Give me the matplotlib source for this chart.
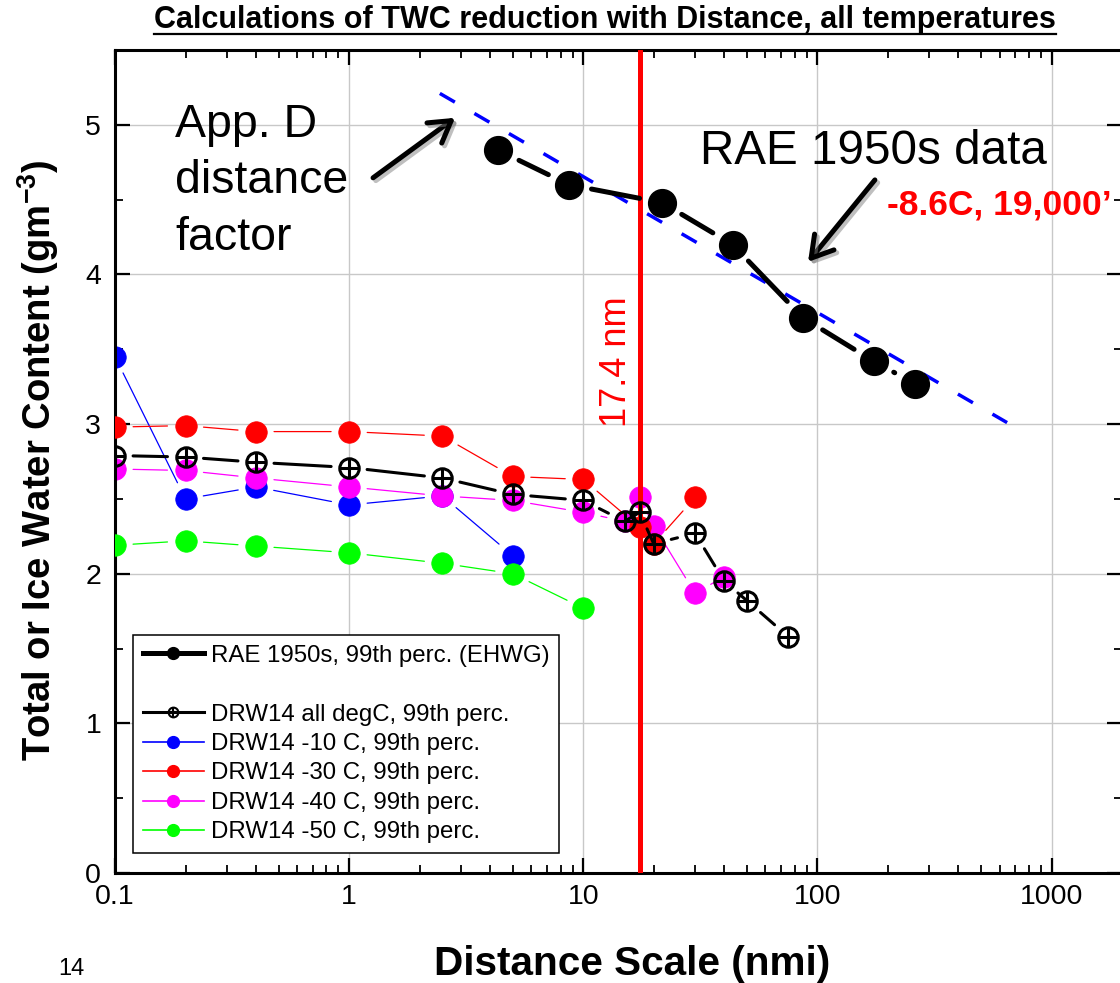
import matplotlib
matplotlib.use('Agg')
import matplotlib.pyplot as plt
import matplotlib.patheffects as pe
from matplotlib.lines import Line2D
from matplotlib.legend_handler import HandlerTuple
from matplotlib.ticker import MultipleLocator, FuncFormatter, LogLocator, NullFormatter

plt.rcParams['font.family'] = ['Liberation Sans', 'DejaVu Sans']
plt.rcParams['mathtext.default'] = 'regular'

# RAE 1950s, 99th percentile (EHWG)
rae_dist = [4.34, 8.69, 21.7, 43.4, 86.9, 173.8, 260.7]
rae_twc  = [4.83, 4.60, 4.48, 4.20, 3.71, 3.42, 3.27]

# App. D distance factor
appd_dist = [2.44, 646.0]
appd_twc  = [5.21, 3.01]

# DRW14 99th percentiles
all_dist = [0.1, 0.2, 0.4, 1, 2.5, 5, 10, 15, 17.4, 20, 30, 40, 50, 75]
all_twc  = [2.79, 2.78, 2.745, 2.71, 2.64, 2.53, 2.49, 2.35, 2.41, 2.20, 2.27, 1.95, 1.82, 1.58]
m10_dist = [0.1, 0.2, 0.4, 1, 2.5, 5]
m10_twc  = [3.45, 2.50, 2.58, 2.46, 2.52, 2.12]
m40_dist = [0.1, 0.2, 0.4, 1, 2.5, 5, 10, 15, 17.4, 20, 30, 40]
m40_twc  = [2.70, 2.69, 2.64, 2.58, 2.52, 2.49, 2.41, 2.35, 2.51, 2.32, 1.87, 1.98]
m30_dist = [0.1, 0.2, 0.4, 1, 2.5, 5, 10, 17.4, 20, 30]
m30_twc  = [2.98, 2.99, 2.95, 2.95, 2.92, 2.65, 2.63, 2.31, 2.20, 2.51]
m50_dist = [0.1, 0.2, 0.4, 1, 2.5, 5, 10]
m50_twc  = [2.19, 2.22, 2.185, 2.14, 2.07, 2.00, 1.77]

d_cut = 17.4

fig = plt.figure(figsize=(11.2, 9.83), dpi=100)
ax = fig.add_axes([0.1027, 0.1119, 0.8991, 0.8372])
ax.set_xscale('log')
ax.set_xlim(0.1, 2000)
ax.set_ylim(0, 5.5)


def connect(x, y, color, lw, gap, z):
    # segments that stop short of the markers
    for i in range(len(x) - 1):
        ax.annotate('', xy=(x[i + 1], y[i + 1]), xytext=(x[i], y[i]),
                    arrowprops=dict(arrowstyle='-', color=color, lw=lw,
                                    shrinkA=gap, shrinkB=gap),
                    zorder=z)


colored = [(m10_dist, m10_twc, '#0000ff', 'DRW14 -10 C, 99th perc.'),
           (m40_dist, m40_twc, '#ff00ff', 'DRW14 -40 C, 99th perc.'),
           (m30_dist, m30_twc, '#ff0000', 'DRW14 -30 C, 99th perc.'),
           (m50_dist, m50_twc, '#00ff00', 'DRW14 -50 C, 99th perc.')]

z = 2.0
for xs, ys, c, lab in colored:
    connect(xs, ys, c, 0.9, 13, z)
    ax.plot(xs, ys, ls='none', marker='o', ms=15.5, mfc=c, mec=c, mew=0.5, zorder=z + 0.1)
    z += 0.2

# 17.4 nm cut
ax.axvline(d_cut, color='#ff0000', lw=3.6, zorder=3.5)
ax.text(13.9, 3.42, '%g nm' % d_cut, rotation=90, color='#ff0000', fontsize=26,
        ha='center', va='center', zorder=3.5)

# DRW14 all temperatures
connect(all_dist, all_twc, 'black', 2.2, 13, 4)
ax.plot(all_dist, all_twc, ls='none', marker='o', ms=14, mfc='none', mec='black', mew=2.2, zorder=4.1)
ax.plot(all_dist, all_twc, ls='none', marker='+', ms=14, mec='black', mew=2.2, zorder=4.1)

# App. D line and RAE data
ax.plot(appd_dist, appd_twc, color='#0000ff', lw=2.5, dashes=(5, 6.5), zorder=4.5)
connect(rae_dist, rae_twc, 'black', 3.6, 16.5, 5)
ax.plot(rae_dist, rae_twc, ls='none', marker='o', ms=20, mfc='black', mec='black', zorder=5.1)

# annotations
ax.text(0.1804, 5.145, 'App. D\ndistance\nfactor', fontsize=33.5, ha='left', va='top',
        linespacing=1.36, zorder=6)
ax.text(31.6, 4.74, 'RAE 1950s data', fontsize=34.3, ha='left', va='baseline', zorder=6)
ax.text(198.6, 4.40, '-8.6C, 19,000\u2019', fontsize=25.5, fontweight='bold', color='#ff0000',
        ha='left', va='baseline', zorder=6)

shadow = [pe.SimpleLineShadow(offset=(2, -2), shadow_color='gray', alpha=0.5), pe.Normal()]
for tail, head in [((1.265, 4.646), (2.835, 5.047)), ((176.0, 4.632), (91.2, 4.084))]:
    an = ax.annotate('', xy=head, xytext=tail,
                     arrowprops=dict(arrowstyle='->,head_length=0.75,head_width=0.45',
                                     color='black', lw=3.6, mutation_scale=20,
                                     shrinkA=0, shrinkB=0),
                     zorder=6)
    an.arrow_patch.set_path_effects(shadow)

# axes styling
ax.grid(True, which='major', color='#c8c8c8', lw=1.0)
ax.set_axisbelow(True)
for s in ax.spines.values():
    s.set_linewidth(2.2)
ax.yaxis.set_major_locator(MultipleLocator(1))
ax.yaxis.set_minor_locator(MultipleLocator(0.5))
ax.xaxis.set_major_locator(LogLocator(base=10))
ax.xaxis.set_minor_locator(LogLocator(base=10, subs=range(2, 10)))
ax.xaxis.set_minor_formatter(NullFormatter())
ax.xaxis.set_major_formatter(FuncFormatter(lambda v, p: '%g' % v))
ax.tick_params(which='both', direction='in', top=True, right=True, labelsize=20.5)
ax.tick_params(which='major', length=11, width=1.6)
ax.tick_params(which='minor', length=6, width=1.3)
ax.tick_params(axis='y', pad=10)
ax.tick_params(axis='x', pad=8)

# legend
h_rae = Line2D([], [], color='black', lw=3.6, marker='o', ms=8.5)
h_blank = Line2D([], [], ls='none')
h_all = (Line2D([], [], color='black', lw=2.2, marker='o', ms=7, mfc='none', mew=1.5),
         Line2D([], [], ls='none', marker='+', color='black', ms=7, mew=1.5))
handles = [h_rae, h_blank, h_all]
labels = ['RAE 1950s, 99th perc. (EHWG)', ' ', 'DRW14 all degC, 99th perc.']
for xs, ys, c, lab in [colored[0], colored[2], colored[1], colored[3]]:
    handles.append(Line2D([], [], color=c, lw=1.2, marker='o', ms=8.5))
    labels.append(lab)
leg = ax.legend(handles, labels, loc='lower left', bbox_to_anchor=(0.0179, 0.0243),
                borderaxespad=0, fontsize=17.3, handlelength=2.55, handletextpad=0.3,
                labelspacing=0.31, fancybox=False, framealpha=1, edgecolor='black',
                handler_map={tuple: HandlerTuple(ndivide=1)})
leg.get_frame().set_linewidth(1.1)
leg.set_zorder(7)

# labels and title
fig.text(0.034, 0.532, 'Total or Ice Water Content (gm$^{-3}$)', rotation=90,
         fontsize=27.5, fontweight='bold', ha='center', va='center')
fig.text(0.564, 1 - 975 / 983, 'Distance Scale (nmi)', fontsize=29.2, fontweight='bold',
         ha='center', va='baseline')
fig.text(58 / 1120, 1 - 975 / 983, '14', fontsize=17, ha='left', va='baseline')
title = fig.text(0.540, 1 - 28 / 983, 'Calculations of TWC reduction with Distance, all temperatures',
                 fontsize=22, fontweight='bold', ha='center', va='baseline')

fig.canvas.draw()
bb = title.get_window_extent(fig.canvas.get_renderer())
inv = fig.transFigure.inverted()
x0, y0 = inv.transform((bb.x0, bb.y0 + 1))
x1, _ = inv.transform((bb.x1, bb.y0 + 1))
fig.add_artist(Line2D([x0, x1], [y0, y0], color='black', lw=1.6, transform=fig.transFigure))

fig.savefig('out.png', dpi=100)
